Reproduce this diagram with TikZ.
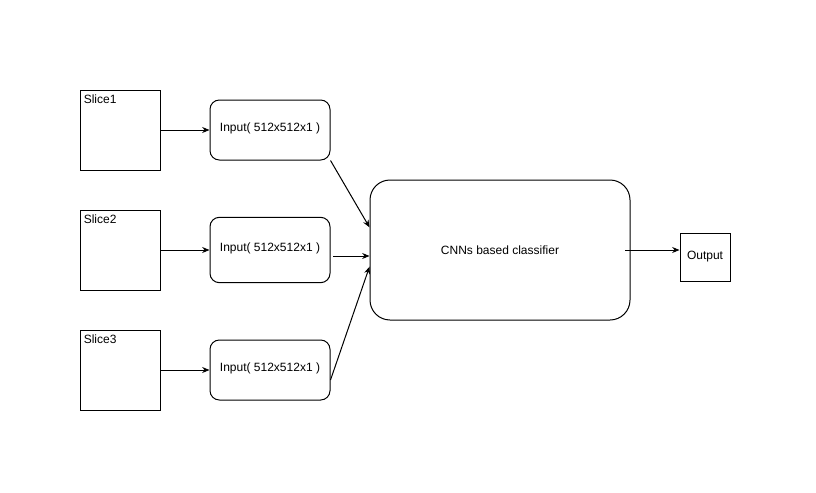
\documentclass[tikz,border=0pt]{standalone}
\usepackage{fontspec}
\setmainfont{Liberation Sans}
\usetikzlibrary{positioning,arrows.meta}

\tikzstyle{slicebox} = [rectangle, draw, line width=0.75pt, minimum width=60pt, minimum height=60pt]
\tikzstyle{inputbox} = [rectangle, draw, line width=0.75pt, rounded corners=7pt, minimum width=90pt, minimum height=45pt, text centered, text depth=4pt]
\tikzstyle{cnnbox} = [rectangle, draw, line width=0.75pt, rounded corners=15pt, minimum width=195pt, minimum height=105pt, text centered]
\tikzstyle{outbox} = [rectangle, draw, line width=0.75pt, minimum width=37.5pt, minimum height=36pt, text centered]
\tikzstyle{slicelabel} = [anchor=north west, inner sep=0pt, xshift=3pt, yshift=-4pt]
\tikzstyle{arrow} = [line width=0.75pt,->,>={Stealth[length=5.5pt,width=4.5pt]}]

\begin{document}
\begin{tikzpicture}[x=0.75pt, y=-0.75pt, node distance=90pt, font=\fontsize{9}{11}\selectfont]
\useasboundingbox (0,0) rectangle (816,492);
\node (slice1) [slicebox, label={[slicelabel]north west:Slice1}] at (120,130) {};
\node (slice2) [slicebox, label={[slicelabel]north west:Slice2}, below of=slice1] {};
\node (slice3) [slicebox, label={[slicelabel]north west:Slice3}, below of=slice2] {};

\node (in1) [inputbox, right of=slice1, node distance=112.5pt] {Input( 512x512x1 )};
\node (in2) [inputbox, right of=slice2, node distance=112.5pt, minimum height=49pt] {Input( 512x512x1 )};
\node (in3) [inputbox, right of=slice3, node distance=112.5pt] {Input( 512x512x1 )};

\node (cnn) [cnnbox] at (500,250) {CNNs based classifier};
\node (output) [outbox] at (705,257) {Output};

\draw [arrow] (slice1) -- (in1);
\draw [arrow] (slice2) -- (in2);
\draw [arrow] (slice3) -- (in3);
\draw [arrow] (in1.south east) -- ([yshift=17pt]cnn.west);
\draw [arrow] ([xshift=2pt,yshift=-4.5pt]in2.east) -- ([yshift=-4.5pt]cnn.west);
\draw [arrow] ([yshift=-7.5pt]in3.east) -- ([yshift=-12.5pt]cnn.west);
\draw [arrow] ([xshift=-4pt]cnn.east) -- (cnn.east -| output.west);
\end{tikzpicture}
\end{document}
